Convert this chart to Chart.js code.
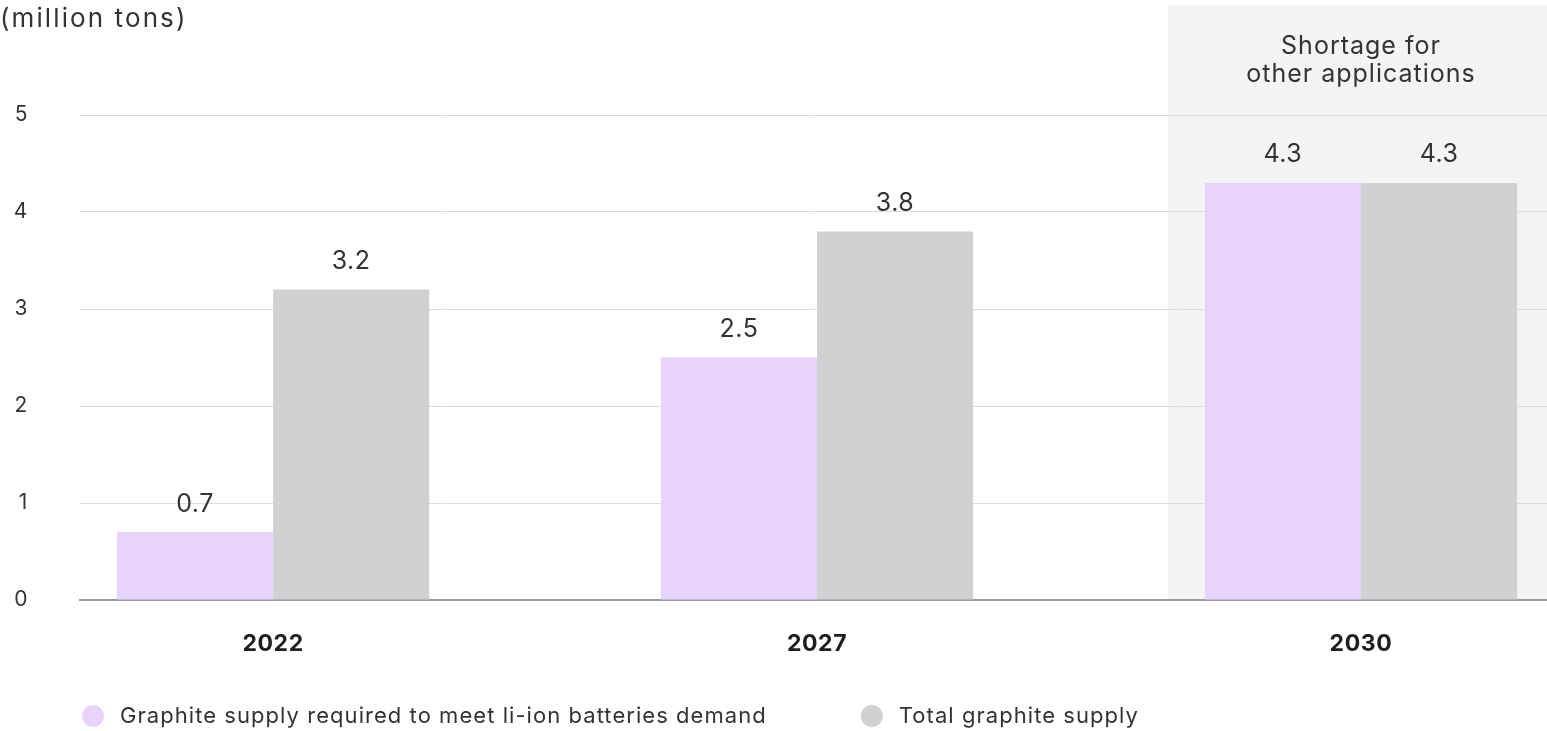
<!DOCTYPE html>
<html>
<head>
<meta charset="utf-8">
<script src="https://cdn.jsdelivr.net/npm/chart.js@4.4.1/dist/chart.umd.min.js"></script>
<style>
    html, body { margin: 0; padding: 0; background: #ffffff; }
    #wrap { width: 1547px; height: 731px; position: relative; }
</style>
</head>
<body>
<div id="wrap"><canvas id="myChart"></canvas></div>
<script>
const years = ['2022', '2027', '2030'];
const batteryDemand = [0.7, 2.5, 4.3];
const totalSupply = [3.2, 3.8, 4.3];
const yTicks = [0, 1, 2, 3, 4, 5];
const seriesNames = ['Graphite supply required to meet li-ion batteries demand', 'Total graphite supply'];
const seriesColors = ['#e8d3fd', '#d1d1d1'];
const unitLabel = '(million tons)';
const shortageNote = ['Shortage for', 'other applications'];

const FONT = 'Inter, "Noto Sans", sans-serif';
const TEXT = '#333333';
// x range in index units, so the groups sit where they should
const X_MIN = -0.355;
const X_MAX = 2.342;
const PANEL_START = 1.645;

// light panel behind the 2030 group, with its note
const shortagePanel = {
    id: 'shortagePanel',
    beforeDraw(chart) {
        const { ctx, chartArea, scales } = chart;
        const x0 = scales.x.getPixelForValue(PANEL_START);
        const mid = scales.x.getPixelForValue(2);
        ctx.save();
        ctx.fillStyle = '#f4f4f4';
        ctx.fillRect(x0, 5, chartArea.right - x0, chartArea.bottom - 5);
        ctx.fillStyle = TEXT;
        ctx.font = '25px ' + FONT;
        ctx.letterSpacing = '1px';
        ctx.textAlign = 'center';
        ctx.textBaseline = 'middle';
        ctx.fillText(shortageNote[0], mid, 46);
        ctx.fillText(shortageNote[1], mid, 74);
        ctx.restore();
        // wider tracking for the axis labels drawn next
        ctx.letterSpacing = '0.6px';
    }
};

// unit caption, bar values and the legend row
const extraText = {
    id: 'extraText',
    afterDraw(chart) {
        const { ctx } = chart;
        ctx.save();
        ctx.fillStyle = TEXT;
        ctx.font = '26px ' + FONT;
        ctx.letterSpacing = '2.1px';
        ctx.textAlign = 'left';
        ctx.textBaseline = 'middle';
        ctx.fillText(unitLabel, 0, 19);

        ctx.font = '25px ' + FONT;
        ctx.letterSpacing = '0.5px';
        ctx.textAlign = 'center';
        chart.data.datasets.forEach((ds, di) => {
            chart.getDatasetMeta(di).data.forEach((bar, i) => {
                ctx.fillText(ds.data[i].y.toFixed(1), bar.x, bar.y - 28);
            });
        });

        ctx.font = '22px ' + FONT;
        ctx.letterSpacing = '1.05px';
        ctx.textAlign = 'left';
        let x = 82;
        const y = 716;
        chart.data.datasets.forEach((ds) => {
            ctx.fillStyle = ds.backgroundColor;
            ctx.beginPath();
            ctx.arc(x + 11, y, 11, 0, Math.PI * 2);
            ctx.fill();
            ctx.fillStyle = TEXT;
            ctx.fillText(ds.label, x + 38, y);
            x += 38 + ctx.measureText(ds.label).width + 94;
        });
        ctx.restore();
        ctx.letterSpacing = '0px';
    }
};

const ctx = document.getElementById('myChart').getContext('2d');
window.myChartInstance = new Chart(ctx, {
    type: 'bar',
    data: {
        datasets: [{
            label: seriesNames[0],
            data: years.map((y, i) => ({ x: i, y: batteryDemand[i] })),
            backgroundColor: seriesColors[0]
        }, {
            label: seriesNames[1],
            data: years.map((y, i) => ({ x: i, y: totalSupply[i] })),
            backgroundColor: seriesColors[1]
        }]
    },
    options: {
        responsive: true,
        maintainAspectRatio: false,
        animation: false,
        categoryPercentage: 0.574,
        barPercentage: 1,
        layout: { padding: { top: 115, right: 0, left: 0, bottom: 0 } },
        plugins: {
            legend: { display: false },
            tooltip: { enabled: false }
        },
        scales: {
            x: {
                type: 'linear',
                offset: false,
                bounds: 'data',
                min: X_MIN,
                max: X_MAX,
                afterBuildTicks: (scale) => {
                    scale.min = X_MIN;
                    scale.max = X_MAX;
                    scale.ticks = years.map((y, i) => ({ value: i }));
                },
                afterFit: (scale) => { scale.height = 131; },
                grid: { display: false, drawTicks: false },
                border: { color: '#9a9a9a', width: 2 },
                ticks: {
                    padding: 30,
                    color: '#1e1e1e',
                    maxRotation: 0,
                    font: { family: FONT, size: 23, weight: 'bold' },
                    callback: (value) => years[value] ?? ''
                }
            },
            y: {
                min: 0,
                max: 5,
                afterBuildTicks: (scale) => {
                    scale.ticks = yTicks.map(v => ({ value: v }));
                },
                afterFit: (scale) => { scale.width = 80; },
                grid: { color: '#dcdcdc', lineWidth: 1, drawTicks: false },
                border: { display: false },
                ticks: {
                    padding: 52,
                    color: TEXT,
                    font: { family: FONT, size: 21 }
                }
            }
        }
    },
    plugins: [shortagePanel, extraText]
});
</script>
</body>
</html>
